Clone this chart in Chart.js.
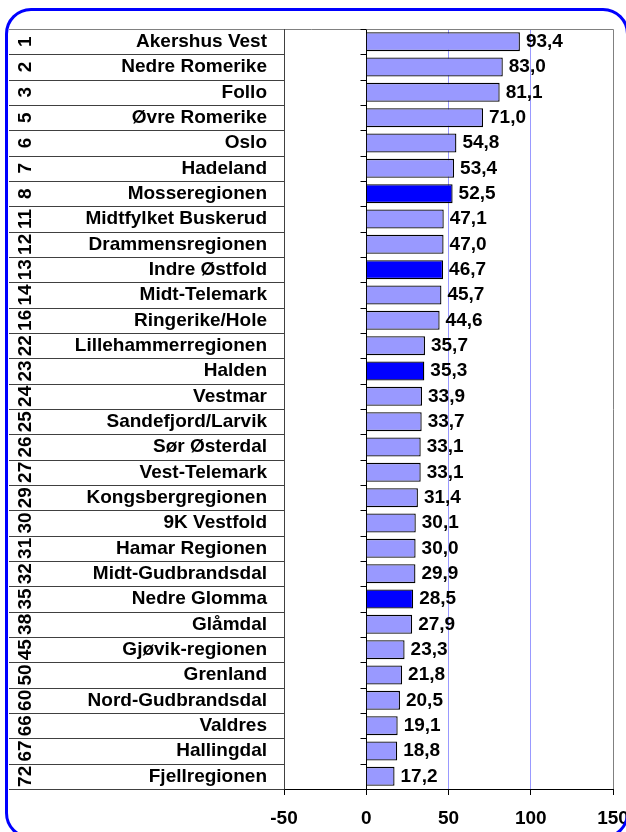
<!DOCTYPE html>
<html>
<head>
<meta charset="utf-8">
<script src="https://cdn.jsdelivr.net/npm/chart.js@4"></script>
<style>
  html, body { margin: 0; padding: 0; background: #fff; overflow: hidden; }
  #wrap { position: relative; width: 626px; height: 832px; overflow: hidden; }
  #chart { position: absolute; left: 0; top: 0; }
  #frame {
    position: absolute; left: 5px; top: 8px; width: 624px; height: 831px;
    box-sizing: border-box; border: 3px solid #0000ff; border-radius: 26px;
    pointer-events: none;
  }
</style>
</head>
<body>
<div id="wrap">
  <canvas id="chart" width="626" height="832"></canvas>
  <div id="frame"></div>
</div>
<script>
// Rangering, regioner og verdier
const ranks = [1, 2, 3, 5, 6, 7, 8, 11, 12, 13, 14, 16, 22, 23, 24, 25, 26, 27, 29, 30,
  31, 32, 35, 38, 45, 50, 60, 66, 67, 72];
const regions = ['Akershus Vest', 'Nedre Romerike', 'Follo', 'Øvre Romerike', 'Oslo',
  'Hadeland', 'Mosseregionen', 'Midtfylket Buskerud', 'Drammensregionen', 'Indre Østfold',
  'Midt-Telemark', 'Ringerike/Hole', 'Lillehammerregionen', 'Halden', 'Vestmar',
  'Sandefjord/Larvik', 'Sør Østerdal', 'Vest-Telemark', 'Kongsbergregionen', '9K Vestfold',
  'Hamar Regionen', 'Midt-Gudbrandsdal', 'Nedre Glomma', 'Glåmdal', 'Gjøvik-regionen',
  'Grenland', 'Nord-Gudbrandsdal', 'Valdres', 'Hallingdal', 'Fjellregionen'];
const values = [93.4, 83.0, 81.1, 71.0, 54.8, 53.4, 52.5, 47.1, 47.0, 46.7, 45.7, 44.6,
  35.7, 35.3, 33.9, 33.7, 33.1, 33.1, 31.4, 30.1, 30.0, 29.9, 28.5, 27.9, 23.3, 21.8,
  20.5, 19.1, 18.8, 17.2];
const highlighted = ['Mosseregionen', 'Indre Østfold', 'Halden', 'Nedre Glomma'];

const FONT = 'bold 19px "Liberation Sans", Arial, sans-serif';

const colors = regions.map((r) => (highlighted.includes(r) ? '#0000ff' : '#9999ff'));

// Tabell til venstre, ramme og nullakse
const tablePlugin = {
  id: 'table',
  beforeDatasetsDraw(chart) {
    const { ctx, chartArea: a, scales: { x, y } } = chart;
    const band = y.getPixelForValue(1) - y.getPixelForValue(0);
    const x0 = Math.round(x.getPixelForValue(0)) + 0.5;
    ctx.save();
    ctx.lineWidth = 1;

    // Plotteområdets ramme
    ctx.strokeStyle = '#808080';
    ctx.beginPath();
    ctx.moveTo(9, a.top + 0.5);
    ctx.lineTo(Math.round(a.right) + 0.5, a.top + 0.5);
    ctx.lineTo(Math.round(a.right) + 0.5, a.bottom);
    ctx.stroke();

    // Radlinjer og små streker ved nullaksen
    for (let i = 0; i <= regions.length; i++) {
      const yy = Math.round(y.getPixelForValue(i) - band / 2) + 0.5;
      if (i > 0) {
        ctx.strokeStyle = '#404040';
        ctx.beginPath();
        ctx.moveTo(9, yy);
        ctx.lineTo(Math.round(a.left) + 0.5, yy);
        ctx.stroke();
      }
      ctx.strokeStyle = '#000';
      ctx.beginPath();
      ctx.moveTo(x0 - 6, yy);
      ctx.lineTo(x0, yy);
      ctx.stroke();
    }
    ctx.strokeStyle = '#404040';
    ctx.beginPath();
    ctx.moveTo(Math.round(a.left) + 0.5, a.top);
    ctx.lineTo(Math.round(a.left) + 0.5, a.bottom);
    ctx.stroke();

    // Rangering, rotert
    ctx.fillStyle = '#000';
    ctx.font = FONT;
    ctx.textAlign = 'center';
    ctx.textBaseline = 'middle';
    ranks.forEach((r, i) => {
      ctx.save();
      ctx.translate(25.5, y.getPixelForValue(i));
      ctx.rotate(-Math.PI / 2);
      ctx.fillText(String(r), 0, 0);
      ctx.restore();
    });
    ctx.restore();
  },
  afterDatasetsDraw(chart) {
    const { ctx } = chart;
    const meta = chart.getDatasetMeta(0);
    ctx.save();
    ctx.fillStyle = '#000';
    ctx.font = FONT;
    ctx.textAlign = 'left';
    ctx.textBaseline = 'middle';
    meta.data.forEach((bar, i) => {
      ctx.fillText(values[i].toFixed(1).replace('.', ','), bar.x + 6, bar.y);
    });
    ctx.restore();
  }
};

new Chart(document.getElementById('chart'), {
  type: 'bar',
  data: {
    labels: regions,
    datasets: [{
      data: values,
      backgroundColor: colors,
      borderColor: '#000',
      borderWidth: 1.3,
      categoryPercentage: 1,
      barPercentage: 0.75
    }]
  },
  options: {
    indexAxis: 'y',
    responsive: false,
    devicePixelRatio: 1,
    animation: false,
    layout: { padding: { top: 29, right: 13, left: 9, bottom: 0 } },
    plugins: { legend: { display: false }, tooltip: { enabled: false } },
    scales: {
      x: {
        min: -50,
        max: 150,
        ticks: { stepSize: 50, color: '#000', font: { family: '"Liberation Sans", Arial', size: 19, weight: 'bold' }, padding: 12 },
        grid: {
          color: (c) => {
            const v = c.tick && c.tick.value;
            if (v === 0) return '#000';
            if (v === 50 || v === 100) return '#9999ff';
            return 'rgba(0,0,0,0)';
          },
          tickColor: '#000',
          tickLength: 6
        },
        border: { display: true, color: '#000' },
        afterFit(scale) {
          scale.height = 43;
          scale.paddingLeft = 0;
          scale.paddingRight = 0;
        }
      },
      y: {
        ticks: { color: '#000', font: { family: '"Liberation Sans", Arial', size: 19, weight: 'bold' }, padding: 17, autoSkip: false },
        grid: { display: false, drawTicks: false },
        border: { display: false },
        afterFit(scale) {
          scale.width = 275;
          scale.paddingTop = 0;
          scale.paddingBottom = 0;
        }
      }
    }
  },
  plugins: [tablePlugin]
});
</script>
</body>
</html>
